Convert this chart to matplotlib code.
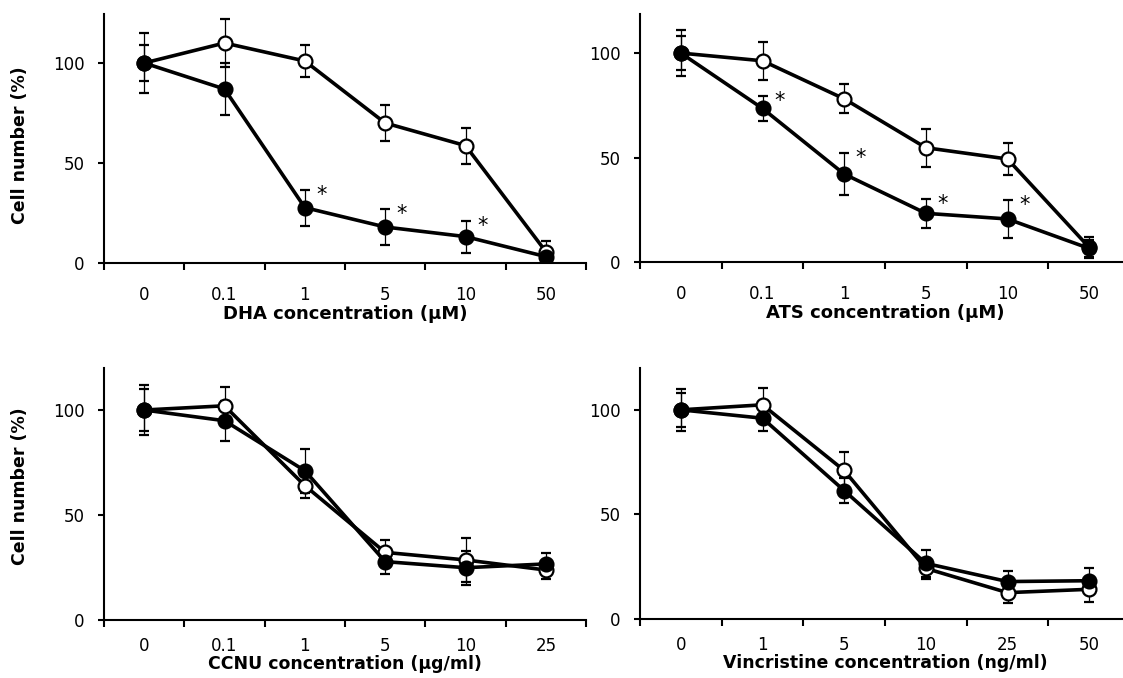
import matplotlib
matplotlib.use('Agg')
import matplotlib.pyplot as plt
import numpy as np

plt.rcParams['font.family'] = ['DejaVu Sans']

# panel 1: DHA
dha_labels = ["0", "0.1", "1", "5", "10", "50"]
dha_open = [100, 110, 101, 70, 58.7, 5.7]
dha_open_err = [9, 12, 8, 9, 9, 5.5]
dha_fill = [100, 87, 27.7, 18, 13.2, 3.2]
dha_fill_err = [15, 13, 9, 9, 8, 2]
dha_stars = [2, 3, 4]

# panel 2: ATS
ats_labels = ["0", "0.1", "1", "5", "10", "50"]
ats_open = [100, 96.3, 78.1, 54.7, 49.3, 7]
ats_open_err = [8, 9, 7, 9, 7.5, 5]
ats_fill = [100, 73.5, 42.1, 23.3, 20.6, 6.5]
ats_fill_err = [11, 6, 10, 7, 9, 4]
ats_stars = [1, 2, 3, 4]

# panel 3: CCNU
ccnu_labels = ["0", "0.1", "1", "5", "10", "25"]
ccnu_open = [100, 102, 64, 32.2, 28.6, 23.8]
ccnu_open_err = [10, 9, 6, 6, 10.5, 4.5]
ccnu_fill = [100, 94.9, 71.1, 27.8, 24.9, 26.7]
ccnu_fill_err = [12, 9.5, 10.5, 6, 8, 5]

# panel 4: vincristine
vcr_labels = ["0", "1", "5", "10", "25", "50"]
vcr_open = [100, 102.4, 71, 24.2, 12.6, 14.2]
vcr_open_err = [10, 8, 9, 5, 5, 6]
vcr_fill = [100, 96, 61.4, 26.6, 17.9, 18.3]
vcr_fill_err = [8, 6, 6, 6.5, 5, 6]

W, H = 1123, 678
fig = plt.figure(figsize=(W / 100, H / 100), dpi=100)


def px_axes(left, right, bottom, top):
    return fig.add_axes([left / W, 1 - bottom / H, (right - left) / W, (bottom - top) / H])


def panel(ax, labels, yo, yo_err, yf, yf_err, stars, xlabel, ymax, ylab_y,
          tickpad, xlabsize, xlabpad):
    x = np.arange(len(labels))
    ax.errorbar(x, yo, yerr=yo_err, color='black', lw=2.6, marker='o', ms=10,
                mfc='white', mec='black', mew=1.6, ecolor='black', elinewidth=0.9,
                capsize=3.5, capthick=0.9)
    ax.errorbar(x, yf, yerr=yf_err, color='black', lw=2.6, marker='o', ms=10,
                mfc='black', mec='black', mew=1.6, ecolor='black', elinewidth=0.9,
                capsize=3.5, capthick=0.9)
    for i in stars:
        ax.annotate('*', (x[i], yf[i] + yf_err[i]), xytext=(12, -8),
                    textcoords='offset points', ha='center', va='baseline', fontsize=15)
    ax.set_xlim(-0.5, len(labels) - 0.5)
    ax.set_ylim(0, ymax)
    # ticks sit between categories, labels under the points
    ax.set_xticks(np.arange(len(labels) + 1) - 0.5)
    ax.set_xticklabels([])
    ax.set_xticks(x, minor=True)
    ax.set_xticklabels(labels, minor=True)
    ax.tick_params(axis='x', which='major', direction='out', length=5, width=1.5)
    ax.tick_params(axis='x', which='minor', length=0, pad=tickpad, labelsize=12)
    ax.set_yticks([0, 50, 100])
    ax.tick_params(axis='y', direction='out', length=4.3, width=1.5, pad=9.5, labelsize=12)
    for s in ['top', 'right']:
        ax.spines[s].set_visible(False)
    for s in ['left', 'bottom']:
        ax.spines[s].set_linewidth(1.5)
    ax.set_xlabel(xlabel, fontsize=xlabsize, fontweight='bold', labelpad=xlabpad)
    if ylab_y is not None:
        ax.set_ylabel('Cell number (%)', fontsize=12.5, fontweight='bold')
        ax.yaxis.set_label_coords(-0.155, ylab_y)


ax1 = px_axes(104, 586, 263, 14)
panel(ax1, dha_labels, dha_open, dha_open_err, dha_fill, dha_fill_err, dha_stars,
      'DHA concentration (μM)', 124.5, 0.472, 16.5, 13, 1)

ax2 = px_axes(640, 1130, 262, 14)
panel(ax2, ats_labels, ats_open, ats_open_err, ats_fill, ats_fill_err, ats_stars,
      'ATS concentration (μM)', 118.7, None, 16.5, 13, 1)

# bottom row is tighter so the x titles stay inside the picture
ax3 = px_axes(104, 586, 620, 368)
panel(ax3, ccnu_labels, ccnu_open, ccnu_open_err, ccnu_fill, ccnu_fill_err, [],
      'CCNU concentration (μg/ml)', 120, 0.530, 12.5, 12.5, 0)

ax4 = px_axes(640, 1130, 619, 368)
panel(ax4, vcr_labels, vcr_open, vcr_open_err, vcr_fill, vcr_fill_err, [],
      'Vincristine concentration (ng/ml)', 120, None, 12.5, 12.5, 0)

fig.savefig('out.png', dpi=100)
